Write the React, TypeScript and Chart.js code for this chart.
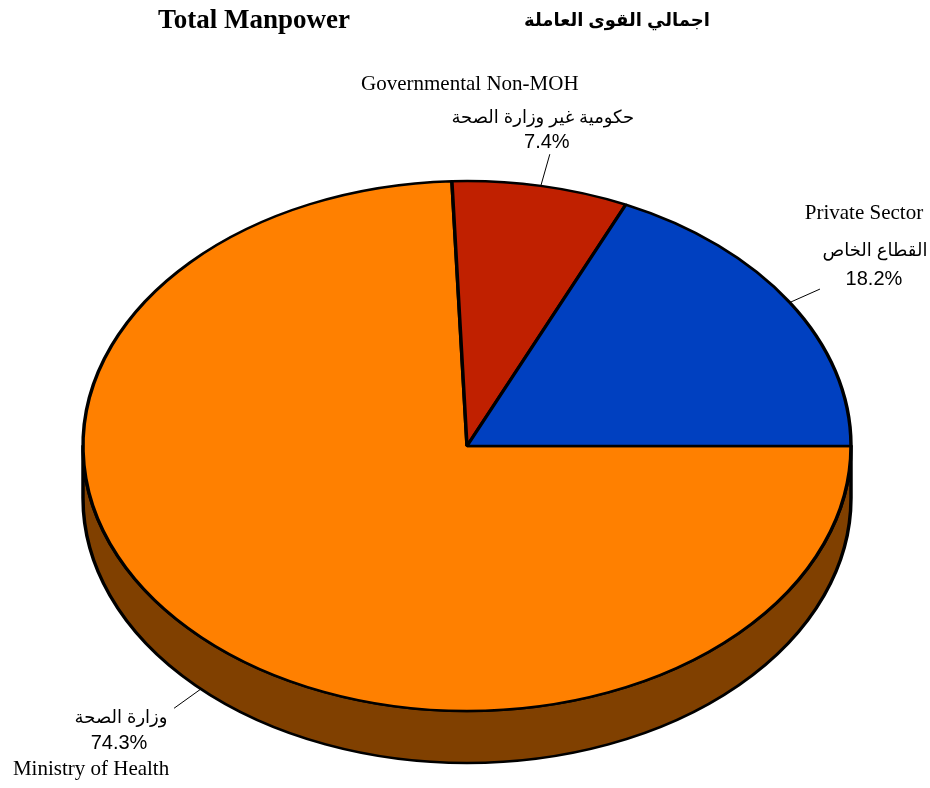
import React, { useEffect, useRef } from 'react';
import { Chart, registerables } from 'chart.js';

Chart.register(...registerables);

// ---- data ----
const categories = ['Ministry of Health', 'Governmental Non-MOH', 'Private Sector'];
const arabicLabels = ['وزارة الصحة', 'حكومية غير وزارة الصحة', 'القطاع الخاص'];
const values = [74.3, 7.4, 18.2];
const percentLabels = ['74.3%', '7.4%', '18.2%'];
const colors = ['#FF8000', '#C02000', '#0040C0'];
const sideColors = ['#804000', '#601000', '#002060'];
const titleEn = 'Total Manpower';
const titleAr = 'اجمالي القوى العاملة';

// ---- geometry of the 3D ellipse ----
const RX = 384;
const RY = 265;
const DEPTH = 52;
const SX = RX / RY;

const SERIF = '"Liberation Serif", "Times New Roman", serif';
const SANS = '"Liberation Sans", Arial, "DejaVu Sans", sans-serif';

// text placement relative to leader-line end, per slice
const labelLayout = [
  { en: [-83, 61], ar: [-53, 10], pct: [-55, 35] },
  { en: [-80, -70], ar: [-7, -36], pct: [-3, -12] },
  { en: [44, -76], ar: [55, -38], pct: [54, -10] },
];

export default function App() {
  const ref = useRef<HTMLCanvasElement>(null);

  useEffect(() => {
    const canvas = ref.current;
    if (!canvas) return;

    const pie3d = {
      id: 'pie3d',
      beforeDatasetsDraw(chart: any) {
        const meta = chart.getDatasetMeta(0);
        const ctx = chart.ctx as CanvasRenderingContext2D;
        const first: any = meta.data[0];
        const cx = first.x;
        const cy = first.y;
        ctx.save();
        ctx.translate(cx, cy);
        ctx.scale(SX, 1);
        ctx.translate(-cx, -cy);
        const TAU = Math.PI * 2;
        meta.data.forEach((el: any, i: number) => {
          const r = el.outerRadius;
          for (let k = -1; k <= 1; k++) {
            const lo = Math.max(el.startAngle, k * TAU);
            const hi = Math.min(el.endAngle, k * TAU + Math.PI);
            if (hi > lo) {
              ctx.beginPath();
              ctx.arc(cx, cy, r, lo, hi);
              ctx.arc(cx, cy + DEPTH, r, hi, lo, true);
              ctx.closePath();
              ctx.fillStyle = sideColors[i];
              ctx.fill();
              ctx.lineWidth = 2.4;
              ctx.strokeStyle = '#000';
              ctx.lineJoin = 'round';
              ctx.stroke();
            }
          }
        });
      },
      afterDatasetsDraw(chart: any) {
        chart.ctx.restore();
      },
      afterDraw(chart: any) {
        const ctx = chart.ctx as CanvasRenderingContext2D;
        const meta = chart.getDatasetMeta(0);
        ctx.save();
        // titles
        ctx.fillStyle = '#000';
        ctx.textAlign = 'center';
        ctx.textBaseline = 'middle';
        ctx.font = 'bold 27px ' + SERIF;
        ctx.fillText(titleEn, 254, 21);
        ctx.font = 'bold 18px ' + SANS;
        ctx.fillText(titleAr, 617, 21);

        meta.data.forEach((el: any, i: number) => {
          const cx = el.x;
          const cy = el.y;
          const mid = (el.startAngle + el.endAngle) / 2;
          const rx = el.outerRadius * SX;
          const ry = el.outerRadius;
          const c = Math.cos(mid);
          const s = Math.sin(mid);
          const px = cx + rx * c;
          let py = cy + ry * s;
          if (s > 0) py += DEPTH;
          const dx = rx * c;
          const dy = ry * s;
          const len = Math.hypot(dx, dy);
          const ex = px + (33 * dx) / len;
          const ey = py + (33 * dy) / len;
          ctx.beginPath();
          ctx.moveTo(px, py);
          ctx.lineTo(ex, ey);
          ctx.lineWidth = 1;
          ctx.strokeStyle = '#000';
          ctx.stroke();

          const L = labelLayout[i];
          ctx.fillStyle = '#000';
          ctx.textAlign = 'center';
          ctx.textBaseline = 'middle';
          ctx.font = '21px ' + SERIF;
          ctx.fillText(categories[i], ex + L.en[0], ey + L.en[1]);
          ctx.font = '18px ' + SANS;
          ctx.fillText(arabicLabels[i], ex + L.ar[0], ey + L.ar[1]);
          ctx.font = '20px ' + SANS;
          ctx.fillText(percentLabels[i], ex + L.pct[0], ey + L.pct[1]);
        });
        ctx.restore();
      },
    };

    const chart = new Chart(canvas, {
      type: 'pie',
      data: {
        labels: categories,
        datasets: [
          {
            data: values,
            backgroundColor: colors,
            borderColor: '#000',
            borderWidth: 2.4,
            hoverOffset: 0,
            clip: false as any,
          } as any,
        ],
      },
      options: {
        responsive: false,
        animation: false,
        rotation: 90,
        radius: RY,
        layout: { padding: { left: 83, right: 79, top: 181, bottom: 77 } },
        plugins: {
          legend: { display: false },
          tooltip: { enabled: false },
          title: { display: false },
        },
        events: [],
      } as any,
      plugins: [pie3d],
    });

    return () => chart.destroy();
  }, []);

  return (
    <div style={{ position: 'absolute', left: 0, top: 0, width: 930, height: 788, background: '#fff' }}>
      <canvas ref={ref} width={930} height={788} style={{ display: 'block' }} />
    </div>
  );
}
